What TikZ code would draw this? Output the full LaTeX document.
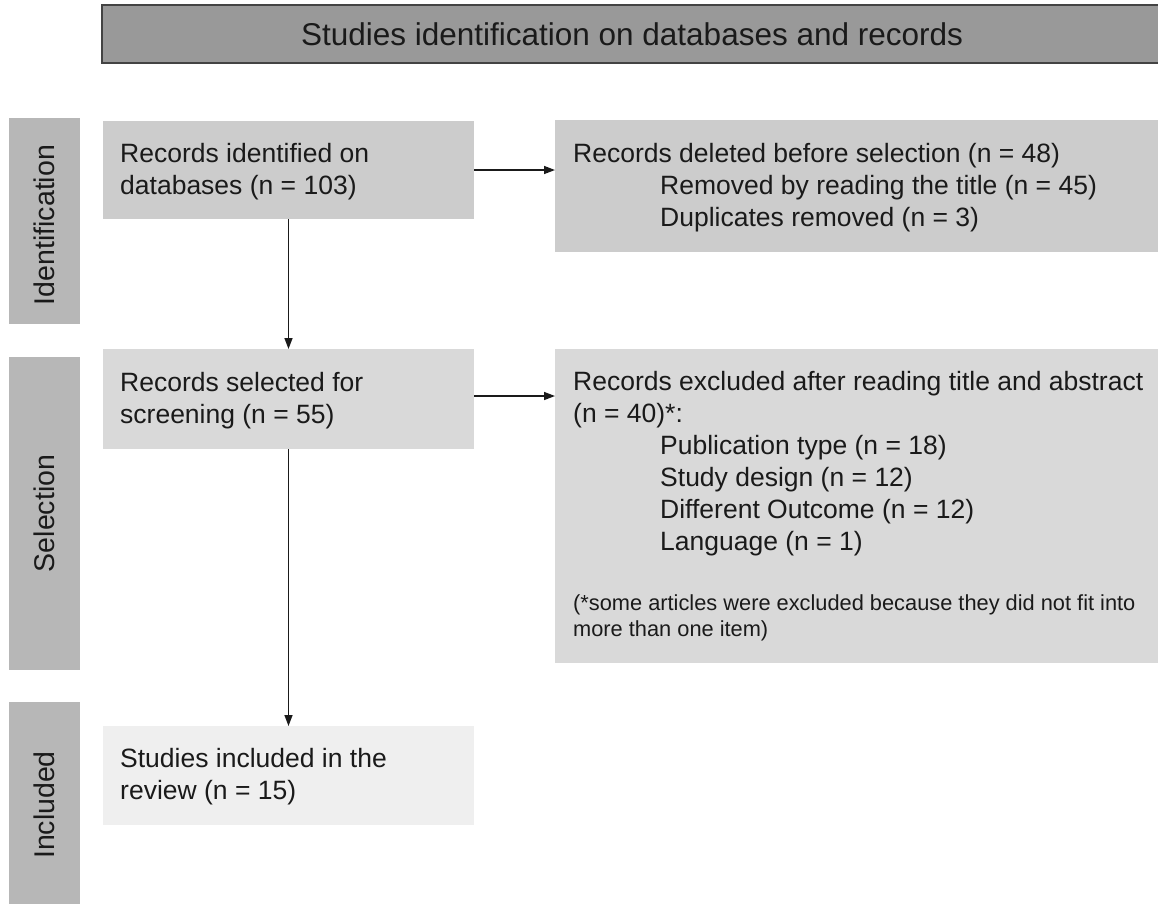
\documentclass[tikz,border=0pt]{standalone}
\usepackage{fontspec}
\setmainfont{Liberation Sans}
\usetikzlibrary{arrows.meta}
\definecolor{rowA}{HTML}{CCCCCC}
\definecolor{rowB}{HTML}{D9D9D9}
\definecolor{rowC}{HTML}{EFEFEF}
\definecolor{labgray}{HTML}{B7B7B7}
\definecolor{bannergray}{HTML}{999999}
\definecolor{bannerline}{HTML}{434343}
\definecolor{ink}{HTML}{1A1A1A}
\newcommand\mainsize{\fontsize{26.5}{32}\selectfont}
\newcommand\notesize{\fontsize{21.8}{26}\selectfont}
\begin{document}
\begin{tikzpicture}[x=1pt,y=-1pt,
  boxshape/.style={rectangle,draw=none,inner sep=0pt,outer sep=0pt},
  lab/.style={boxshape,fill=labgray,minimum width=71pt},
  labtext/.style={rotate=90,inner sep=0pt,font=\fontsize{28.5}{34}\selectfont,text=ink},
  txt/.style={anchor=base west,inner sep=0pt,font=\mainsize,text=ink},
  arr/.style={draw=ink,line width=1.4pt,-{Triangle[length=11pt,width=8pt]}}]
\useasboundingbox (0,0) rectangle (1158,903);
\fill[white] (0,0) rectangle (1158,903);
% banner
\node[boxshape,fill=bannergray,draw=bannerline,line width=1.5pt,
  minimum width=1060pt,minimum height=58pt] (banner) at (632,34) {};
\node[anchor=base,inner sep=0pt,font=\fontsize{31.5}{36}\selectfont,text=ink]
  (bannerT) at (632,45) {Studies identification on databases and records};
% side labels
\node[lab,minimum height=206pt] (idlab) at (44.5,221) {};
\node[labtext] (idlabT) at ([yshift=-4pt]idlab.center) {Identification};
\node[lab,minimum height=313pt] (sellab) at (44.5,513.5) {};
\node[labtext] (sellabT) at (sellab.center) {Selection};
\node[lab,minimum height=206pt] (inclab) at (44.5,805) {};
\node[labtext] (inclabT) at (inclab.center) {Included};
% boxes
\node[boxshape,fill=rowA,minimum width=371pt,minimum height=98pt] (ident) at (288.5,170) {};
\node[boxshape,fill=rowA,minimum width=607pt,minimum height=132pt] (deleted) at (858.5,186) {};
\node[boxshape,fill=rowB,minimum width=371pt,minimum height=100pt] (selected) at (288.5,399) {};
\node[boxshape,fill=rowB,minimum width=607pt,minimum height=314pt] (excluded) at (858.5,506) {};
\node[boxshape,fill=rowC,minimum width=371pt,minimum height=99pt] (included) at (288.5,775.5) {};
% texts
\node[txt] (identT) at (120,162) {\begin{tabular}[t]{@{}l@{}}Records identified on\\databases (n = 103)\end{tabular}};
\node[txt] (deletedT) at (573,162) {\begin{tabular}[t]{@{}l@{}}Records deleted before selection (n = 48)\\
\hspace*{87pt}Removed by reading the title (n = 45)\\
\hspace*{87pt}Duplicates removed (n = 3)\end{tabular}};
\node[txt] (selectedT) at (120,391) {\begin{tabular}[t]{@{}l@{}}Records selected for\\screening (n = 55)\end{tabular}};
\node[txt] (excludedT) at (573,390) {\begin{tabular}[t]{@{}l@{}}Records excluded after reading title and abstract\\
(n = 40)*:\\
\hspace*{87pt}Publication type (n = 18)\\
\hspace*{87pt}Study design (n = 12)\\
\hspace*{87pt}Different Outcome (n = 12)\\
\hspace*{87pt}Language (n = 1)\end{tabular}};
\node[txt,font=\notesize] (noteT) at (573,610) {\begin{tabular}[t]{@{}l@{}}(*some articles were excluded because they did not fit into\\more than one item)\end{tabular}};
\node[txt] (includedT) at (120,767) {\begin{tabular}[t]{@{}l@{}}Studies included in the\\review (n = 15)\end{tabular}};
% connectors
\draw[arr] (ident) -- (selected);
\draw[arr] (selected) -- (included);
\draw[arr] (ident.east) -- (ident.east -| deleted.west);
\draw[arr] ([yshift=3pt]selected.east) -- ([yshift=3pt]selected.east -| excluded.west);
\end{tikzpicture}
\end{document}
